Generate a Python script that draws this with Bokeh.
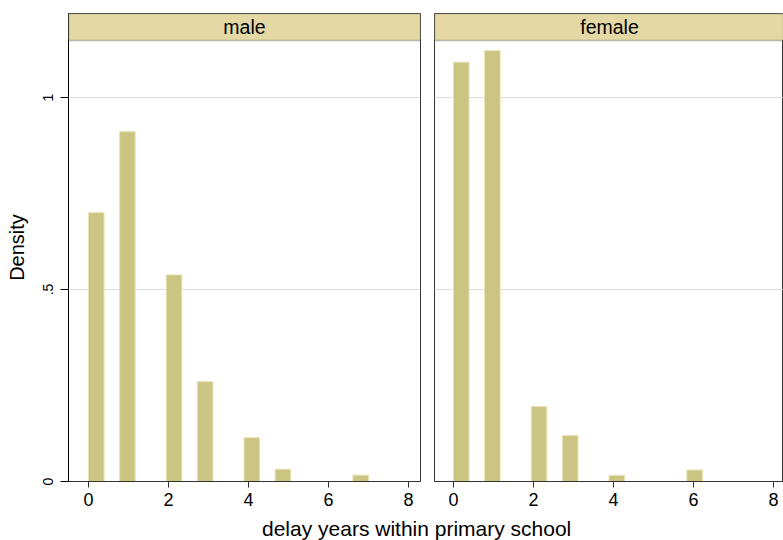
import numpy as np
from bokeh.plotting import figure
from bokeh.models import ColumnDataSource, FixedTicker, Div, Range1d, BoxAnnotation, Label
from bokeh.layouts import column, row
from bokeh.embed import file_html
from bokeh.resources import INLINE

# ---- data ----
bin_start = 0.0
bin_max = 7.0
n_bins = 18

male_delay = [0, 1, 2, 3, 4, 5, 7]
male_density = [0.700, 0.911, 0.538, 0.260, 0.114, 0.032, 0.0165]

female_delay = [0, 1, 2, 3, 4, 6]
female_density = [1.092, 1.122, 0.195, 0.120, 0.016, 0.030]

panel_titles = ["male", "female"]
x_ticks = [0, 2, 4, 6, 8]
y_ticks = [0, 0.5, 1]
y_tick_labels = ["0", ".5", "1"]
x_title = "delay years within primary school"
y_title = "Density"

# ---- styling ----
FONT = "Liberation Sans"
BAR_FILL = "#CBC482"
BAR_LINE = "#E7E3B3"
STRIP_FILL = "#E4D9A5"
FRAME = "#333333"
GRID = "#DCDCDC"

PX_PER_X = 40.0
PX_PER_Y = 384.0
PLOT_H = 441          # plot region height in px
STRIP_H = 27          # header strip height in px
y_plot_top = PLOT_H / PX_PER_Y
y_top = (PLOT_H + STRIP_H) / PX_PER_Y

bw = (bin_max - bin_start) / n_bins


def bins_for(values):
    v = np.asarray(values, dtype=float)
    idx = np.minimum(np.floor((v - bin_start) / bw), n_bins - 1)
    left = bin_start + idx * bw
    return left, left + bw


def make_panel(title, delay, density, x_start, x_end, width, left_axis, mb_left, mb_right):
    fig = figure(width=width, height=511, output_backend="svg", toolbar_location=None,
                 x_range=Range1d(x_start, x_end), y_range=Range1d(0, y_top),
                 y_axis_location="left" if left_axis else None,
                 min_border_left=mb_left, min_border_right=mb_right,
                 min_border_top=13, min_border_bottom=30)
    fig.background_fill_color = "white"
    fig.border_fill_color = "white"
    fig.outline_line_color = FRAME
    fig.outline_line_width = 1

    left, right = bins_for(delay)
    src = ColumnDataSource(dict(left=left, right=right, top=density,
                                bottom=np.zeros(len(density))))
    fig.quad(left="left", right="right", top="top", bottom="bottom", source=src,
             fill_color=BAR_FILL, line_color=BAR_LINE, line_width=1)

    # header strip
    fig.add_layout(BoxAnnotation(bottom=y_plot_top, fill_color=STRIP_FILL, fill_alpha=1.0,
                                 line_color=FRAME, line_width=1.5, level="overlay"))
    fig.add_layout(Label(x=(x_start + x_end) / 2 if left_axis else 3.9, y=(y_plot_top + y_top) / 2,
                         text=title,
                         text_align="center", text_baseline="middle",
                         text_font=FONT, text_font_size="19.5px", text_color="black",
                         level="overlay"))

    # grid
    fig.xgrid.visible = False
    fig.ygrid.ticker = FixedTicker(ticks=[t for t in y_ticks if t > 0])
    fig.ygrid.grid_line_color = GRID
    fig.ygrid.grid_line_width = 1

    # x axis
    xa = fig.xaxis[0]
    xa.ticker = FixedTicker(ticks=x_ticks)
    xa.axis_line_color = FRAME
    xa.major_tick_line_color = FRAME
    xa.major_tick_out = 6
    xa.major_tick_in = 0
    xa.minor_tick_line_color = None
    xa.major_label_text_font = FONT
    xa.major_label_text_font_size = "18px"
    xa.major_label_text_color = "black"
    xa.major_label_standoff = 5

    if left_axis:
        ya = fig.yaxis[0]
        ya.ticker = FixedTicker(ticks=y_ticks)
        ya.major_label_overrides = {t: l for t, l in zip(y_ticks, y_tick_labels)}
        ya.major_label_orientation = "vertical"
        ya.axis_line_color = "black"
        ya.major_tick_line_color = "black"
        ya.major_tick_out = 8
        ya.major_tick_in = 0
        ya.minor_tick_line_color = None
        ya.major_label_text_font = FONT
        ya.major_label_text_font_size = "14px"
        ya.major_label_text_color = "black"
        ya.major_label_standoff = 8
        ya.axis_label = y_title
        ya.axis_label_text_font = FONT
        ya.axis_label_text_font_size = "20px"
        ya.axis_label_text_font_style = "normal"
        ya.axis_label_text_color = "black"
        ya.axis_label_standoff = 12
    return fig


# left panel: frame 68..420 on page, 0 at 88
p1 = make_panel(panel_titles[0], male_delay, male_density,
                -0.5, -0.5 + 352 / PX_PER_X, 427, True, 68, 7)
# right panel: frame 434..783 on page, 0 at 453 (cut at the window edge like the reference)
p2 = make_panel(panel_titles[1], female_delay, female_density,
                -19.0 / PX_PER_X, -19.0 / PX_PER_X + 349 / PX_PER_X, 356, False, 7, 0)

xlab = Div(text=('<div style="font-family:\'Liberation Sans\',Arial,sans-serif;'
                 'font-size:21px;line-height:24px;padding-left:257px;padding-top:1px;'
                 'white-space:nowrap;color:black">' + x_title + '</div>'),
           width=783, height=28)

layout = column(row(p1, p2), xlab)

open("out.html", "w").write(file_html(layout, INLINE))
